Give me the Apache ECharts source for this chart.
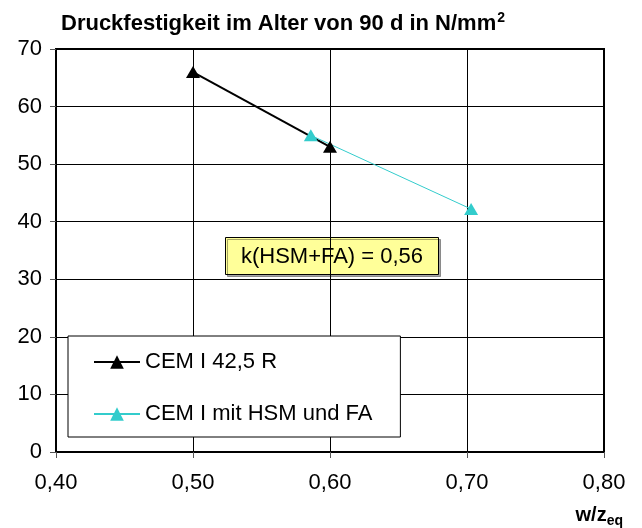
<!DOCTYPE html>
<html>
<head>
<meta charset="utf-8">
<script src="https://cdn.jsdelivr.net/npm/echarts@6/dist/echarts.min.js"></script>
<style>
  html, body { margin: 0; padding: 0; background: #fff; }
  #chart { width: 642px; height: 528px; }
</style>
</head>
<body>
<div id="chart"></div>
<script>
// w/z values and compressive strength (N/mm2)
const cemX = [0.50, 0.60];
const cemY = [66, 53];
const hsmX = [0.586, 0.703];
const hsmY = [55, 42.2];
const seriesNames = ["CEM I 42,5 R", "CEM I mit HSM und FA"];
const noteText = "k(HSM+FA) = 0,56";

const font = "'Liberation Sans', Arial, sans-serif";

function pairs(xs, ys) {
  return xs.map((x, i) => [x, ys[i]]);
}

const chart = echarts.init(document.getElementById("chart"));

chart.setOption({
  animation: false,
  textStyle: { fontFamily: font, color: "#000" },
  title: {
    text: "Druckfestigkeit im Alter von 90 d in N/mm{sup|2}",
    left: 56,
    top: 6,
    textStyle: {
      fontFamily: font,
      fontSize: 22,
      fontWeight: "bold",
      color: "#000",
      rich: {
        sup: { fontSize: 14, fontWeight: "bold", verticalAlign: "top", padding: [0, 0, 12, 1] }
      }
    }
  },
  grid: {
    left: 56,
    right: 38,
    top: 49,
    bottom: 73,
    show: true,
    borderColor: "#000",
    borderWidth: 2
  },
  xAxis: {
    type: "value",
    min: 0.4,
    max: 0.8,
    interval: 0.1,
    name: "w/z{sub|eq}",
    nameLocation: "end",
    nameGap: 19,
    nameTextStyle: {
      fontFamily: font,
      fontSize: 20,
      fontWeight: "bold",
      color: "#000",
      align: "right",
      verticalAlign: "top",
      padding: [50, 0, 0, 0],
      rich: {
        sub: { fontSize: 14, fontWeight: "bold", padding: [12, 0, 0, 0] }
      }
    },
    axisLine: { lineStyle: { color: "#000", width: 2 } },
    axisTick: { show: true, length: 6, lineStyle: { color: "#555" } },
    axisLabel: {
      fontSize: 22,
      color: "#000",
      margin: 20,
      formatter: v => v.toFixed(2).replace(".", ",")
    },
    splitLine: { show: true, lineStyle: { color: "#000", width: 1 } }
  },
  yAxis: {
    type: "value",
    min: 0,
    max: 70,
    interval: 10,
    axisLine: { show: true, lineStyle: { color: "#000", width: 2 } },
    axisTick: { show: true, length: 6, lineStyle: { color: "#555" } },
    axisLabel: { fontSize: 22, color: "#000", margin: 14 },
    splitLine: { show: true, lineStyle: { color: "#000", width: 1 } }
  },
  legend: {
    orient: "vertical",
    left: 68,
    top: 336,
    data: seriesNames,
    itemWidth: 46,
    itemHeight: 17,
    itemGap: 30,
    padding: [15, 28, 12, 25],
    backgroundColor: "#fff",
    borderColor: "#000",
    borderWidth: 1,
    textStyle: { fontSize: 22, color: "#000", lineHeight: 22 }
  },
  graphic: [
    {
      type: "group",
      left: 225,
      top: 237,
      children: [
        {
          type: "rect",
          shape: { x: 0, y: 0, width: 213, height: 37 },
          style: {
            fill: "#ffff99",
            stroke: "#000",
            lineWidth: 1,
            shadowColor: "rgba(0,0,0,0.35)",
            shadowOffsetX: 2,
            shadowOffsetY: 2
          }
        },
        {
          type: "text",
          x: 106.5,
          y: 19,
          style: {
            text: noteText,
            fontFamily: font,
            fontSize: 22,
            fill: "#000",
            align: "center",
            verticalAlign: "middle"
          }
        }
      ]
    }
  ],
  series: [
    {
      name: seriesNames[0],
      type: "line",
      data: pairs(cemX, cemY),
      symbol: "triangle",
      symbolSize: [14, 12],
      itemStyle: { color: "#000" },
      lineStyle: { color: "#000", width: 2 }
    },
    {
      name: seriesNames[1],
      type: "line",
      data: pairs(hsmX, hsmY),
      symbol: "triangle",
      symbolSize: [14, 12],
      itemStyle: { color: "#33cccc" },
      lineStyle: { color: "#33cccc", width: 1 }
    }
  ]
});
</script>
</body>
</html>
